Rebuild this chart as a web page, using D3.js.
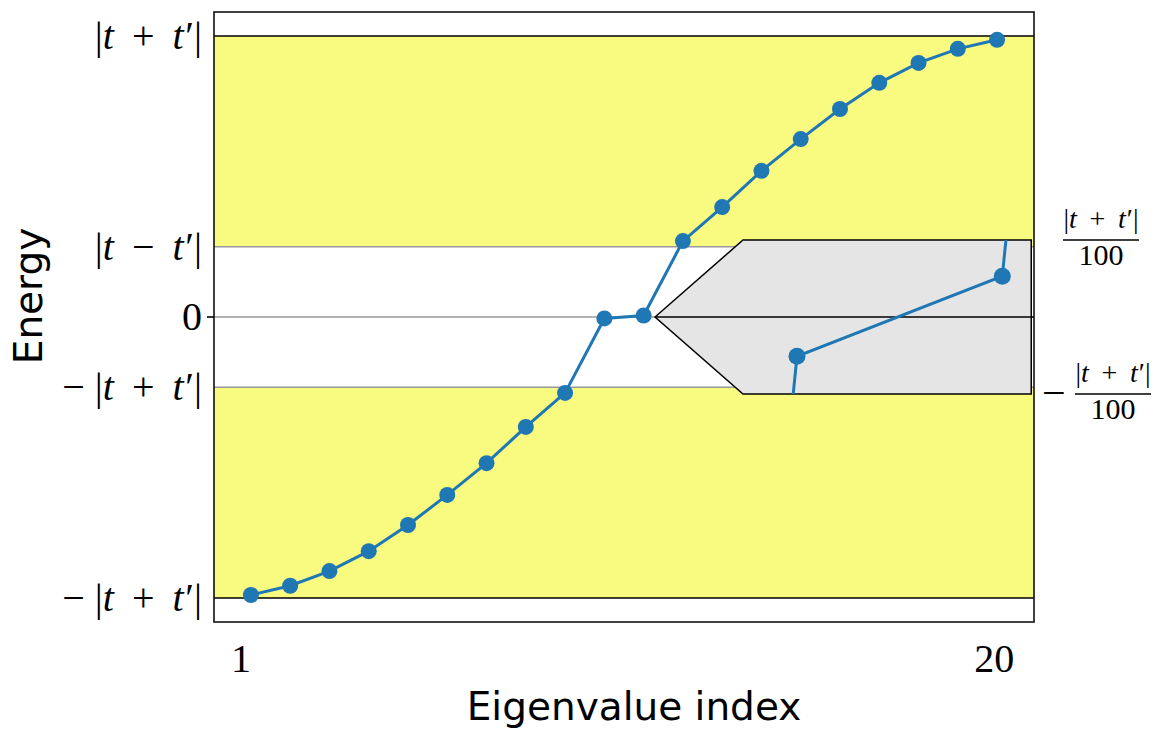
<!DOCTYPE html>
<html><head><meta charset="utf-8">
<script src="https://cdn.jsdelivr.net/npm/d3@7"></script>
<style>
body{margin:0;background:#fff;}
svg{display:block;}
.math{font-family:"Liberation Serif","Times New Roman",serif;}
.sans{font-family:"DejaVu Sans",sans-serif;}
</style></head>
<body>
<svg id="chart" width="1162" height="730"></svg>
<script>
// ---- data ----
const indices = [1,2,3,4,5,6,7,8,9,10,11,12,13,14,15,16,17,18,19,20];
const energies = [-0.989,-0.956,-0.904,-0.833,-0.740,-0.633,-0.520,-0.391,-0.270,-0.0051,
                  0.0053,0.270,0.391,0.520,0.633,0.740,0.833,0.904,0.954,0.986];
const tPlus = 1.0;      // |t+t'|
const tMinus = 0.25;    // |t-t'|
const yTickValues = [tPlus, tMinus, 0, -tMinus, -tPlus];
const yTickLabels = ["|t+t'|", "|t-t'|", "0", "-|t+t'|", "-|t+t'|"];
const xTickValues = [0.75, 19.93];
const xTickLabels = ["1", "20"];
const insetTickValues = [tPlus/100, -tPlus/100];
const insetTickSigns = ["", "-"];
const xLabel = "Eigenvalue index";
const yLabel = "Energy";

// ---- layout ----
const svg = d3.select("#chart");
const L = 214, R = 1034, T = 12, B = 622;
const x = d3.scaleLinear().domain([0.06, 20.94]).range([L, R]);
const y = d3.scaleLinear().domain([-1.085, 1.085]).range([B, T]);
const blue = "#1f77b4", yellow = "#f9fb80";

// bands
[[tMinus, tPlus], [-tPlus, -tMinus]].forEach(b => {
  svg.append("rect").attr("x", L).attr("width", R - L)
    .attr("y", y(b[1])).attr("height", y(b[0]) - y(b[1]))
    .attr("fill", yellow);
});
// gray lines
[tMinus, 0, -tMinus].forEach(v => {
  svg.append("line").attr("x1", L).attr("x2", R).attr("y1", y(v)).attr("y2", y(v))
    .attr("stroke", "#999").attr("stroke-width", 1.5);
});
// black lines
[tPlus, -tPlus].forEach(v => {
  svg.append("line").attr("x1", L).attr("x2", R).attr("y1", y(v)).attr("y2", y(v))
    .attr("stroke", "#000").attr("stroke-width", 1.5);
});

const pts = indices.map((d, i) => [d, energies[i]]);
const line = d3.line().x(d => x(d[0])).y(d => y(d[1]));
svg.append("path").attr("d", line(pts)).attr("fill", "none")
  .attr("stroke", blue).attr("stroke-width", 3);
svg.selectAll("circle.main").data(pts).enter().append("circle")
  .attr("cx", d => x(d[0])).attr("cy", d => y(d[1])).attr("r", 8).attr("fill", blue);

// ---- inset ----
const anchor = [11.29, 0];
const box = {x0: 13.53, x1: 20.87, y0: -0.274, y1: 0.274};
const iL = x(box.x0), iR = x(box.x1), iT = y(box.y1), iB = y(box.y0);
const ix = d3.scaleLinear().domain([9.737, 11.141]).range([iL, iR]);
const iy = d3.scaleLinear().domain([-tPlus/100, tPlus/100]).range([iB, iT]);
const poly = [[x(anchor[0]), y(anchor[1])], [iL, iT], [iR, iT], [iR, iB], [iL, iB]];
svg.append("polygon").attr("points", poly.map(p => p.join(",")).join(" "))
  .attr("fill", "#e5e5e5").attr("stroke", "#000").attr("stroke-width", 1.5)
  .attr("stroke-linejoin", "miter");
svg.append("line").attr("x1", x(anchor[0])).attr("x2", R).attr("y1", y(0)).attr("y2", y(0))
  .attr("stroke", "#000").attr("stroke-width", 1.5);
svg.append("clipPath").attr("id", "ic").append("rect")
  .attr("x", iL).attr("y", iT).attr("width", iR - iL).attr("height", iB - iT);
const ig = svg.append("g").attr("clip-path", "url(#ic)");
const iline = d3.line().x(d => ix(d[0])).y(d => iy(d[1]));
ig.append("path").attr("d", iline(pts)).attr("fill", "none")
  .attr("stroke", blue).attr("stroke-width", 3);
ig.selectAll("circle").data(pts).enter().append("circle")
  .attr("cx", d => ix(d[0])).attr("cy", d => iy(d[1])).attr("r", 8.5).attr("fill", blue);

// frame
svg.append("rect").attr("x", L).attr("y", T).attr("width", R - L).attr("height", B - T)
  .attr("fill", "none").attr("stroke", "#111").attr("stroke-width", 1.6);

// ---- math text helper ----
function mathText(sel, str) {
  let pendingDx = 0;
  let first = true;
  for (const ch of str) {
    let txt = ch, it = false, before = 0, after = 0;
    if (ch === "t") { it = true; }
    else if (ch === "'") { txt = "\u2032"; before = 0.04; }
    else if (ch === "+") { before = 0.45; after = 0.45; }
    else if (ch === "-") {
      txt = "\u2212";
      if (first) { after = 0.25; } else { before = 0.45; after = 0.45; }
    }
    const ts = sel.append("tspan").text(txt).attr("font-style", it ? "italic" : "normal");
    const dx = pendingDx + before;
    if (dx) ts.attr("dx", dx + "em");
    pendingDx = after;
    first = false;
  }
  return sel;
}

// y ticks
yTickValues.forEach((v, i) => {
  const t = svg.append("text").attr("class", "math").attr("x", 202).attr("y", y(v))
    .attr("dy", "0.33em").attr("text-anchor", "end").attr("font-size", 40);
  mathText(t, yTickLabels[i]);
  if (v === 0) svg.append("line").attr("x1", L - 7).attr("x2", L).attr("y1", y(v)).attr("y2", y(v))
    .attr("stroke", "#000").attr("stroke-width", 1.6);
});
// x ticks
xTickValues.forEach((v, i) => {
  svg.append("text").attr("class", "math").attr("x", x(v)).attr("y", 672)
    .attr("text-anchor", "middle").attr("font-size", 40).text(xTickLabels[i]);
});
// inset right labels (fractions)
insetTickValues.forEach((v, i) => {
  const yy = iy(v);
  let x0 = insetTickSigns[i] ? 1042 : 1063;
  if (insetTickSigns[i]) {
    svg.append("text").attr("class", "math").attr("x", x0).attr("y", yy).attr("dy", "0.3em")
      .attr("font-size", 42).text("\u2212");
    x0 = 1075;
  }
  const w = 76;
  svg.append("line").attr("x1", x0).attr("x2", x0 + w).attr("y1", yy).attr("y2", yy)
    .attr("stroke", "#000").attr("stroke-width", 1.6);
  const num = svg.append("text").attr("class", "math").attr("x", x0 + w / 2).attr("y", yy - 12)
    .attr("text-anchor", "middle").attr("font-size", 28);
  mathText(num, "|t+t'|");
  svg.append("text").attr("class", "math").attr("x", x0 + w / 2).attr("y", yy + 25)
    .attr("text-anchor", "middle").attr("font-size", 30).text("100");
});

// axis labels
svg.append("text").attr("class", "sans").attr("x", 634).attr("y", 720)
  .attr("text-anchor", "middle").attr("font-size", 39).text(xLabel);
svg.append("text").attr("class", "sans").attr("transform", "translate(42,296) rotate(-90)")
  .attr("text-anchor", "middle").attr("font-size", 39).text(yLabel);
</script>
</body></html>
